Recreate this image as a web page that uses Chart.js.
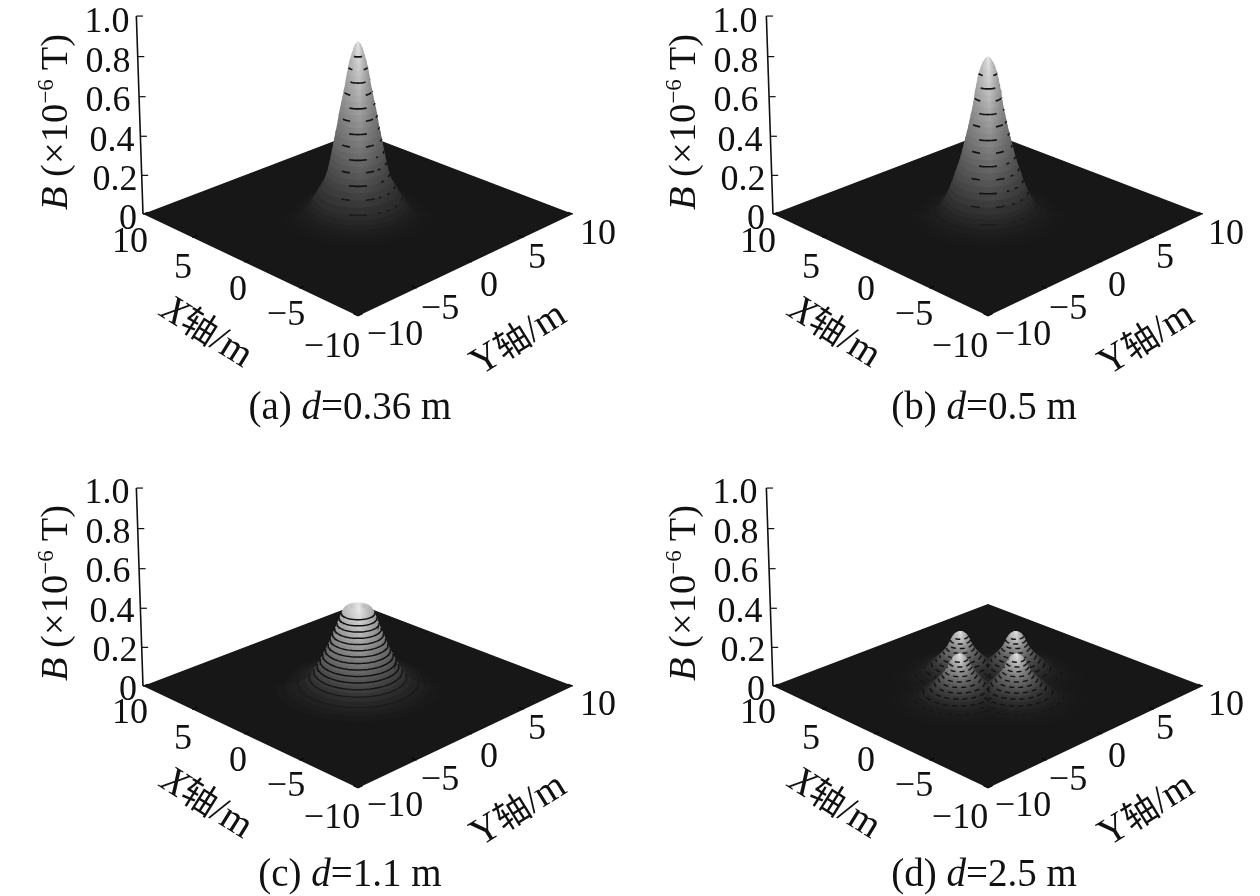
<!DOCTYPE html>
<html>
<head>
<meta charset="utf-8">
<script src="https://cdn.jsdelivr.net/npm/chart.js@4/dist/chart.umd.min.js"></script>
<style>
html,body{margin:0;padding:0;background:#fff;width:1260px;height:896px;overflow:hidden}
canvas{position:absolute}
.t{position:absolute;font-family:"Liberation Serif",serif;font-size:36px;line-height:1;color:#111;white-space:nowrap;transform:translate(-50%,-50%)}
.t i{font-style:italic}
.t .c{font-family:"Noto Sans CJK SC",sans-serif;font-size:.9em}
.t sup{font-size:.6em;line-height:0;vertical-align:baseline;position:relative;top:-.62em}
</style>
</head>
<body>
<script>
// ---------- values ----------
const panelNames = ['(a)', '(b)', '(c)', '(d)'];
const panelD = ['0.36', '0.5', '1.1', '2.5'];
const zTicks = [0, 0.2, 0.4, 0.6, 0.8, 1.0];
const zTickLabels = ['0', '0.2', '0.4', '0.6', '0.8', '1.0'];
const xTicks = [10, 5, 0, -5, -10];
const yTicks = [-10, -5, 0, 5, 10];

// levels of B (1e-6 T) and radius (m) of the surface at each level
const levelsA = [.003,.007,.012,.02,.035,.05,.07,.09,.12,.15,.18,.21,.24,.27,.30,.33,.36,.39,.42,.45,.48,.51,.54,.57,.60,.63,.66,.69,.72,.75,.78,.81,.84,.86,.875];
const radiiA  = [5.0,4.5,4.15,3.8,3.5,3.25,3.05,2.88,2.65,2.42,2.2,2.06,1.95,1.86,1.78,1.7,1.62,1.54,1.47,1.38,1.31,1.25,1.17,1.09,1.0,.93,.84,.78,.71,.64,.55,.43,.31,.2,.05];
const contoursA = [.09,.15,.21,.27,.33,.39,.45,.51,.57,.63,.69,.75,.81];

const levelsB = [.003,.007,.012,.02,.035,.05,.07,.09,.12,.15,.18,.21,.24,.27,.30,.33,.36,.39,.42,.45,.48,.51,.54,.57,.60,.63,.66,.69,.72,.75,.77,.79,.80];
const radiiB  = [5.1,4.6,4.25,3.85,3.4,3.15,2.95,2.8,2.62,2.46,2.3,2.18,2.03,1.9,1.78,1.68,1.58,1.48,1.38,1.29,1.2,1.12,1.03,.96,.9,.84,.76,.69,.6,.47,.36,.2,.04];
const contoursB = [.05,.12,.18,.24,.30,.36,.42,.48,.54,.60,.66,.72];

const levelsC = [.004,.010,.016,.024,.0375,.051,.0645,.078,.0915,.105,.1185,.132,.1455,.159,.1725,.186,.1995,.213,.2265,.24,.2535,.267,.2805,.294,.3075,.321,.3345,.348,.3615,.375,.386,.396,.405,.412];
const radiiC  = [5.4,4.8,4.35,3.95,3.5,3.2,3.02,2.9,2.79,2.68,2.58,2.49,2.4,2.31,2.22,2.13,2.04,1.96,1.89,1.81,1.74,1.66,1.59,1.52,1.44,1.37,1.3,1.22,1.16,1.09,1.02,.95,.82,.5];
const contoursC = [.024,.051,.078,.105,.132,.159,.186,.213,.24,.267,.294,.321,.348,.375];

const levelsD = [.002,.005,.008,.012,.016,.02,.03,.04,.05,.06,.07,.08,.09,.10,.11,.12,.13,.14,.15,.16,.17,.18,.19,.20,.21,.22,.225];
const radiiD  = [5.0,4.5,4.0,3.6,3.3,3.05,2.65,2.35,2.12,1.93,1.77,1.63,1.5,1.37,1.25,1.13,1.02,.93,.85,.78,.72,.66,.6,.52,.42,.24,.05];
const contoursD = [.02,.04,.06,.08,.10,.12,.14,.16,.18,.20];

// peak centres (m), back to front
const peakXSingle = [0], peakYSingle = [0];
const peakXQuad = [2.6, 0, 0, -2.6], peakYQuad = [0, 2.6, -2.6, 0];

// ---------- view and layout ----------
const W = 630, H = 448, CX = 358, CY = 214;
const HALF = 215, F = 90.9, K = 0.1087, ZH = 192, M = 0.03;
const FLOOR = 23;

function project(X, Y, z) {
  const u = (Y - X) / 20, v = (X + Y) / 20, w = 1 + K * v - M * z;
  return { x: HALF * u / w, y: (F * v + ZH * z) / w };
}
function line(points, extra) {
  return Object.assign({ data: points, showLine: true, pointRadius: 0, tension: 0, fill: false,
    borderColor: '#111', borderWidth: 1.4, clip: false }, extra);
}
function arc(x0, y0, r, z, fromDeg, toDeg, steps) {
  const pts = [];
  for (let a = 0; a <= steps; a++) {
    const t = (fromDeg + (toDeg - fromDeg) * a / steps) * Math.PI / 180;
    pts.push(project(x0 + r * Math.cos(t), y0 + r * Math.sin(t), z));
  }
  return pts;
}
function shadeColor(g) { g = Math.max(0, Math.min(255, Math.round(g))); return `rgb(${g},${g},${g})`; }

const FRONT = 225, RIGHT = 135, LEFT = 315;

function contourSets(px, py, r, z, f, n, style) {
  const out = [];
  const alpha = Math.min(1, 0.22 + 3.5 * f);
  const color = `rgba(18,18,18,${alpha})`;
  if (style === 'solid') {
    out.push(line(arc(px, py, r, z, RIGHT - 6, LEFT + 6, 48), { borderColor: color, borderWidth: 1.5 }));
  } else if (style === 'bars') {
    const w = Math.min(38, 9 / (0.27 * r));       // half width of the centre bar, degrees
    if (n % 2 === 0) {
      out.push(line(arc(px, py, r, z, FRONT - w, FRONT + w, 8), { borderColor: color, borderWidth: 1.7 }));
    } else {
      out.push(line(arc(px, py, r, z, FRONT - 1.9 * w, FRONT - 0.9 * w, 4), { borderColor: color, borderWidth: 1.7 }));
      out.push(line(arc(px, py, r, z, FRONT + 0.9 * w, FRONT + 1.9 * w, 4), { borderColor: color, borderWidth: 1.7 }));
    }
    out.push(line(arc(px, py, r, z, RIGHT + 4, FRONT - 2.2 * w, 16), { borderColor: color, borderWidth: 1.6, borderDash: [3, 6] }));
  } else {
    out.push(line(arc(px, py, r, z, RIGHT, LEFT, 40), { borderColor: color, borderWidth: 1.5, borderDash: [5, 4] }));
  }
  return out;
}

function buildDatasets(levels, radii, contours, peakX, peakY, style, gamma) {
  const top = levels[levels.length - 1];
  const ds = [];
  ds.push(line([project(10,-10,0), project(10,10,0), project(-10,10,0), project(-10,-10,0), project(10,-10,0)],
    { fill: 'shape', backgroundColor: '#171717', borderWidth: 0 }));
  xTicks.forEach(t => ds.push(line([project(t,-10,0), project(t,-9.6,0)], { borderColor: '#000', borderWidth: 1 })));
  yTicks.forEach(t => ds.push(line([project(-10,t,0), project(-9.6,t,0)], { borderColor: '#000', borderWidth: 1 })));
  ds.push(line([project(10,-10,0), project(10,-10,1)], { borderColor: '#111', borderWidth: 1.6 }));
  zTicks.forEach(t => ds.push(line([project(10,-10,t), project(9.7,-9.7,t)], { borderWidth: 1.2 })));
  let lineNo = 0;
  levels.forEach((z, i) => {
    const f = z / top;
    const g = FLOOR + 210 * Math.pow(f, gamma);
    const hasLine = contours.includes(z);
    const last = i === levels.length - 1;
    const later = [];
    peakX.forEach((px, p) => {
      // a band of the surface: front of this level joined to the back of the next one
      const front = arc(px, peakY[p], radii[i], z, LEFT, RIGHT, 36);
      const back = last ? arc(px, peakY[p], radii[i], z, RIGHT, LEFT - 360, 36)
                        : arc(px, peakY[p], radii[i + 1], levels[i + 1], RIGHT, LEFT - 360, 36);
      const pts = front.concat(back, [front[0]]);
      const xs = front.map(q => q.x), x0 = Math.min(...xs), x1 = Math.max(...xs);
      ds.push(line(pts, {
        fill: 'shape',
        borderWidth: 0,
        borderColor: 'transparent',
        backgroundColor: c => {
          const ch = c.chart;
          const a = ch.scales && ch.scales.x ? ch.scales.x.getPixelForValue(x0) : NaN;
          const b = ch.scales && ch.scales.x ? ch.scales.x.getPixelForValue(x1) : NaN;
          if (!isFinite(a) || !isFinite(b) || b - a < 0.01) return shadeColor(g);
          const gr = ch.ctx.createLinearGradient(a, 0, b, 0);
          gr.addColorStop(0, shadeColor(FLOOR + (g - FLOOR) * 0.8));
          gr.addColorStop(0.55, shadeColor(g));
          gr.addColorStop(1, shadeColor(FLOOR + (g - FLOOR) * 0.72));
          return gr;
        }
      }));
      if (hasLine) later.push(...contourSets(px, peakY[p], radii[i], z, f, lineNo, style));
    });
    if (hasLine) lineNo++;
    ds.push(...later);
  });
  return ds.reverse(); // Chart.js paints the first dataset last
}

const panels = [
  { left: 0, top: 0, ds: () => buildDatasets(levelsA, radiiA, contoursA, peakXSingle, peakYSingle, 'bars', 0.9) },
  { left: 630, top: 0, ds: () => buildDatasets(levelsB, radiiB, contoursB, peakXSingle, peakYSingle, 'bars', 0.9) },
  { left: 0, top: 472, ds: () => buildDatasets(levelsC, radiiC, contoursC, peakXSingle, peakYSingle, 'solid', 0.9) },
  { left: 630, top: 472, ds: () => buildDatasets(levelsD, radiiD, contoursD, peakXQuad, peakYQuad, 'dash', 1.35) }
];

// label centres, relative to the panel
const zLabelPos = [[128,217],[115,178],[112,139],[108,99],[108,60],[107,20]];
const xLabelPos = [[130,240],[183,266],[238,288],[286,313],[332,345]];
const yLabelPos = [[395,333],[440,307],[489,284],[537,256],[598,232]];
const textOffsetX = [0, 628, 0, 628];
const textOffsetY = [0, 0, 471, 471];
const captionX = [350, 984, 350, 984];
const captionY = [405, 405, 872, 872];

function addText(html, x, y, rot, size) {
  const d = document.createElement('div');
  d.className = 't';
  d.innerHTML = html;
  d.style.left = x + 'px';
  d.style.top = y + 'px';
  if (size) d.style.fontSize = size + 'px';
  if (rot) d.style.transform = `translate(-50%,-50%) rotate(${rot}deg)`;
  document.body.appendChild(d);
}
const fmt = v => String(v).replace('-', '\u2212');

panels.forEach((p, idx) => {
  const cv = document.createElement('canvas');
  cv.width = W; cv.height = H;
  cv.style.left = p.left + 'px'; cv.style.top = p.top + 'px';
  cv.style.width = W + 'px'; cv.style.height = H + 'px';
  document.body.appendChild(cv);
  new Chart(cv, {
    type: 'scatter',
    data: { datasets: p.ds() },
    options: {
      responsive: false, animation: false, maintainAspectRatio: false,
      layout: { padding: 0 },
      plugins: { legend: { display: false }, tooltip: { enabled: false } },
      events: [],
      scales: {
        x: { type: 'linear', display: false, min: -CX, max: W - CX },
        y: { type: 'linear', display: false, min: CY - H, max: CY }
      }
    }
  });
  const ox = textOffsetX[idx], oy = textOffsetY[idx];
  zTickLabels.forEach((s, i) => addText(s, ox + zLabelPos[i][0], oy + zLabelPos[i][1]));
  xTicks.forEach((t, i) => addText(fmt(t), ox + xLabelPos[i][0], oy + xLabelPos[i][1]));
  yTicks.forEach((t, i) => addText(fmt(t), ox + yLabelPos[i][0], oy + yLabelPos[i][1]));
  addText('<i>B</i> (\u00d710<sup>\u2212</sup><sup>6</sup> T)', ox + 54, oy + 122, -90, 38.5);
  addText('<i>X</i><span class="c">轴</span>/m', ox + 208, oy + 330, 32, 39);
  addText('Y<span class="c">轴</span>/m', ox + 517, oy + 337, -32, 39);
  addText(`${panelNames[idx]} <i>d</i>=${panelD[idx]} m`, captionX[idx], captionY[idx], 0, 39);
});
</script>
</body>
</html>
